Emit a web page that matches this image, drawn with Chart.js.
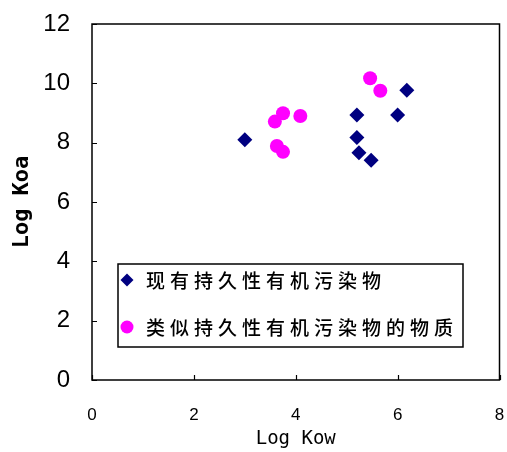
<!DOCTYPE html>
<html>
<head>
<meta charset="utf-8">
<script src="https://cdn.jsdelivr.net/npm/chart.js@4/dist/chart.umd.min.js"></script>
<style>
  html, body { margin: 0; padding: 0; background: #fff; }
  #wrap { width: 507px; height: 452px; }
</style>
</head>
<body>
<div id="wrap"><canvas id="c" width="507" height="452"></canvas></div>
<script>
// Series names
const seriesNames = ['现有持久性有机污染物', '类似持久性有机污染物的物质'];

// Existing POPs: Log Kow / Log Koa
const kowExisting = [3.0, 5.2, 6.0, 6.18, 5.2, 5.24, 5.48];
const koaExisting = [8.1, 8.93, 8.93, 9.77, 8.17, 7.66, 7.41];

// POP-like substances: Log Kow / Log Koa
const kowSimilar = [5.46, 5.66, 3.75, 3.59, 4.09, 3.63, 3.75];
const koaSimilar = [10.17, 9.75, 8.99, 8.71, 8.9, 7.89, 7.69];

// Axis ranges and tick steps
const xRange = [0, 8];
const yRange = [0, 12];
const xStep = 2;
const yStep = 2;

const NAVY = '#000080';
const MAGENTA = '#FF00FF';

const toPoints = (xs, ys) => xs.map((x, i) => ({ x: x, y: ys[i] }));

// Drop the automatic edge padding so the layout padding alone sets the plot area
const noEdgePadding = (scale) => {
  scale.paddingTop = 0;
  scale.paddingBottom = 0;
  scale.paddingLeft = 0;
  scale.paddingRight = 0;
};

// Plot frame plus short inward tick marks
const framePlugin = {
  id: 'frame',
  afterDatasetsDraw(chart) {
    const { ctx, chartArea: a, scales } = chart;
    ctx.save();
    ctx.strokeStyle = '#000';
    ctx.lineWidth = 1.5;
    ctx.strokeRect(a.left, a.top, a.right - a.left, a.bottom - a.top);
    ctx.lineWidth = 1.2;
    ctx.beginPath();
    scales.x.ticks.forEach(t => {
      const px = Math.round(scales.x.getPixelForValue(t.value)) + 0.5;
      ctx.moveTo(px, a.bottom);
      ctx.lineTo(px, a.bottom - 5);
    });
    scales.y.ticks.forEach(t => {
      const py = Math.round(scales.y.getPixelForValue(t.value)) + 0.5;
      ctx.moveTo(a.left, py);
      ctx.lineTo(a.left + 5, py);
    });
    ctx.stroke();
    ctx.restore();
  }
};

// Boxed legend inside the plot area
const boxLegendPlugin = {
  id: 'boxLegend',
  afterDraw(chart) {
    const { ctx, chartArea: a } = chart;
    const left = a.left + 26, top = a.top + 240, w = 345, h = 83;
    ctx.save();
    ctx.fillStyle = '#fff';
    ctx.fillRect(left, top, w, h);
    ctx.strokeStyle = '#000';
    ctx.lineWidth = 1.5;
    ctx.strokeRect(left, top, w, h);
    const rows = [top + 16, top + 63];
    chart.data.datasets.forEach((ds, i) => {
      const cy = rows[i];
      const cx = left + 9;
      ctx.fillStyle = ds.backgroundColor;
      ctx.beginPath();
      if (ds.pointStyle === 'rectRot') {
        const r = 6.5;
        ctx.moveTo(cx, cy - r);
        ctx.lineTo(cx + r, cy);
        ctx.lineTo(cx, cy + r);
        ctx.lineTo(cx - r, cy);
        ctx.closePath();
      } else {
        ctx.arc(cx, cy, 6.5, 0, Math.PI * 2);
      }
      ctx.fill();
      ctx.fillStyle = '#000';
      ctx.font = '500 19px "Noto Sans CJK SC", sans-serif';
      ctx.textBaseline = 'middle';
      ctx.textAlign = 'left';
      if ('letterSpacing' in ctx) ctx.letterSpacing = '5px';
      ctx.fillText(ds.label, left + 28, cy + 1);
      if ('letterSpacing' in ctx) ctx.letterSpacing = '0px';
    });
    ctx.restore();
  }
};

new Chart(document.getElementById('c'), {
  type: 'scatter',
  data: {
    datasets: [
      {
        label: seriesNames[0],
        data: toPoints(kowExisting, koaExisting),
        pointStyle: 'rectRot',
        pointRadius: 7.5,
        pointHoverRadius: 7.5,
        backgroundColor: NAVY,
        borderColor: NAVY,
        borderWidth: 0
      },
      {
        label: seriesNames[1],
        data: toPoints(kowSimilar, koaSimilar),
        pointStyle: 'circle',
        pointRadius: 7,
        pointHoverRadius: 7,
        backgroundColor: MAGENTA,
        borderColor: MAGENTA,
        borderWidth: 0
      }
    ]
  },
  options: {
    responsive: false,
    animation: false,
    devicePixelRatio: 1,
    layout: { padding: { top: 24, right: 4, left: 0, bottom: 0 } },
    plugins: {
      legend: { display: false },
      tooltip: { enabled: false }
    },
    scales: {
      x: {
        type: 'linear',
        min: xRange[0],
        max: xRange[1],
        grid: { display: false, drawTicks: false },
        border: { display: false },
        ticks: {
          stepSize: xStep,
          color: '#000',
          padding: 25,
          font: { family: '"Liberation Sans", Arial, sans-serif', size: 17 }
        },
        title: {
          display: true,
          text: 'Log Kow',
          color: '#000',
          font: { family: '"DejaVu Sans Mono", monospace', size: 19, lineHeight: 0.9 }
        },
        afterFit(scale) { scale.height = 72; noEdgePadding(scale); }
      },
      y: {
        type: 'linear',
        min: yRange[0],
        max: yRange[1],
        grid: { display: false, drawTicks: false },
        border: { display: false },
        ticks: {
          stepSize: yStep,
          color: '#000',
          padding: 22,
          font: { family: '"Liberation Sans Narrow", "Liberation Sans", Arial, sans-serif', size: 24 }
        },
        title: {
          display: true,
          text: 'Log Koa',
          color: '#000',
          font: { family: '"DejaVu Sans Mono", monospace', size: 22, weight: 'bold', lineHeight: 1.7 }
        },
        afterFit(scale) { scale.width = 92; noEdgePadding(scale); }
      }
    }
  },
  plugins: [framePlugin, boxLegendPlugin]
});
</script>
</body>
</html>
